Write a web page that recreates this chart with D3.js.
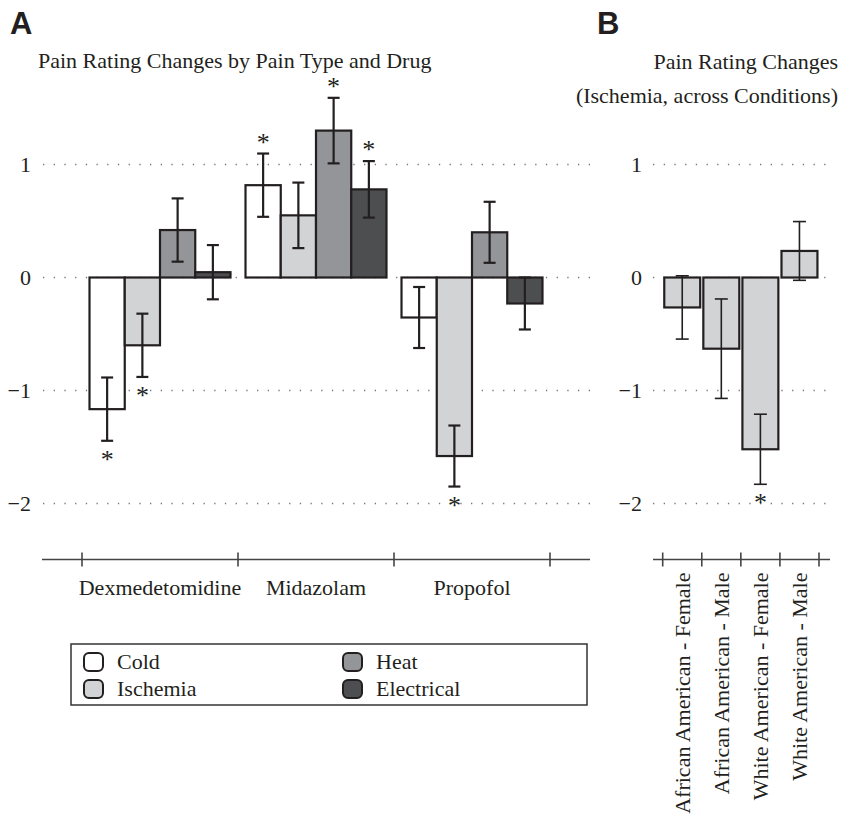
<!DOCTYPE html>
<html>
<head>
<meta charset="utf-8">
<script src="https://cdn.jsdelivr.net/npm/d3@7"></script>
<style>
  body { margin: 0; background: #fff; }
  text { font-family: "Liberation Serif", "Times New Roman", serif; fill: #231f20; }
  .panel-letter { font-family: "Liberation Sans", Arial, sans-serif; font-weight: bold; }
</style>
</head>
<body>
<div id="chart"></div>
<script>
// panel A data
const drugs = ["Dexmedetomidine", "Midazolam", "Propofol"];
const painTypes = ["Cold", "Ischemia", "Heat", "Electrical"];
const meansA = [
  [-1.165, -0.60, 0.42, 0.047],
  [0.817, 0.55, 1.30, 0.78],
  [-0.354, -1.58, 0.40, -0.23]
];
const seA = [
  [0.28, 0.28, 0.28, 0.24],
  [0.28, 0.29, 0.29, 0.25],
  [0.27, 0.27, 0.27, 0.23]
];
const sigA = [
  [1, 1, 0, 0],
  [1, 0, 1, 1],
  [0, 1, 0, 0]
];

// panel B data (ischemia)
const conditions = ["African American - Female", "African American - Male", "White American - Female", "White American - Male"];
const meansB = [-0.265, -0.63, -1.52, 0.235];
const seB = [0.28, 0.44, 0.31, 0.26];
const sigB = [0, 0, 1, 0];

const yTicks = [1, 0, -1, -2];
const fills = { Cold: "#ffffff", Ischemia: "#d1d3d4", Heat: "#939598", Electrical: "#4d4e50" };
const ink = "#231f20";

const svg = d3.select("#chart").append("svg")
  .attr("width", 842).attr("height", 816);

// shared y scale
const y = d3.scaleLinear().domain([-2, 1]).range([503.5, 164.5]);

function fmt(d) { return d < 0 ? "\u2212" + Math.abs(d) : String(d); }

function grid(g, x1, x2, labelX) {
  g.selectAll("line.grid").data(yTicks).join("line")
    .attr("class", "grid")
    .attr("x1", x1).attr("x2", x2)
    .attr("y1", d => y(d)).attr("y2", d => y(d))
    .attr("stroke", "#777").attr("stroke-width", 1.3)
    .attr("stroke-dasharray", "1.3,9.4");
  g.selectAll("text.ytick").data(yTicks).join("text")
    .attr("class", "ytick")
    .attr("x", labelX).attr("y", d => y(d))
    .attr("dy", "0.35em")
    .attr("text-anchor", "end")
    .style("font-size", "22px")
    .text(fmt);
}

function errorBar(g, cx, m, se, capW, sw) {
  g.append("line").attr("x1", cx).attr("x2", cx)
    .attr("y1", y(m + se)).attr("y2", y(m - se))
    .attr("stroke", ink).attr("stroke-width", sw);
  [m + se, m - se].forEach(v => {
    g.append("line").attr("x1", cx - capW / 2).attr("x2", cx + capW / 2)
      .attr("y1", y(v)).attr("y2", y(v))
      .attr("stroke", ink).attr("stroke-width", sw);
  });
}

function star(g, cx, m, se) {
  // centre of the star sits 15px beyond the end of the error bar
  const cy = m >= 0 ? y(m + se) - 15 : y(m - se) + 15;
  g.append("text").attr("x", cx).attr("y", cy + 12)
    .attr("text-anchor", "middle")
    .style("font-size", "26px")
    .text("*");
}

// ---------- panel A ----------
const gA = svg.append("g");
gA.append("text").attr("class", "panel-letter")
  .attr("x", 10).attr("y", 34).style("font-size", "31px").text("A");
gA.append("text").attr("x", 38).attr("y", 68)
  .style("font-size", "22px").text("Pain Rating Changes by Pain Type and Drug");

grid(gA, 43, 590, 31);

const x0 = d3.scaleBand().domain(drugs).range([82, 550]).padding(0);
const x1 = d3.scaleBand().domain(painTypes).range([0, x0.bandwidth()])
  .paddingInner(0).paddingOuter(0.213);

drugs.forEach((drug, i) => {
  const g = gA.append("g").attr("transform", `translate(${x0(drug)},0)`);
  painTypes.forEach((pt, j) => {
    const m = meansA[i][j];
    g.append("rect")
      .attr("x", x1(pt)).attr("width", x1.bandwidth())
      .attr("y", y(Math.max(0, m)))
      .attr("height", Math.abs(y(m) - y(0)))
      .attr("fill", fills[pt])
      .attr("stroke", ink).attr("stroke-width", 2.2);
  });
  painTypes.forEach((pt, j) => {
    const cx = x1(pt) + x1.bandwidth() / 2;
    errorBar(g, cx, meansA[i][j], seA[i][j], 12, 2.2);
    if (sigA[i][j]) star(g, cx, meansA[i][j], seA[i][j]);
  });
});

// x axis A
const axisY = 559.5;
const axA = gA.append("g").attr("transform", `translate(0,${axisY})`);
axA.append("line").attr("x1", 42).attr("x2", 590)
  .attr("stroke", "#444").attr("stroke-width", 1.6);
const boundsA = drugs.map(d => x0(d)).concat([x0.range()[1]]);
axA.selectAll("line.tk").data(boundsA).join("line")
  .attr("class", "tk")
  .attr("x1", d => d).attr("x2", d => d).attr("y1", -7).attr("y2", 7)
  .attr("stroke", "#444").attr("stroke-width", 1.6);
axA.selectAll("text.lbl").data(drugs).join("text")
  .attr("class", "lbl")
  .attr("x", d => x0(d) + x0.bandwidth() / 2).attr("y", 35)
  .attr("text-anchor", "middle")
  .style("font-size", "22px")
  .text(d => d);

// legend
const lg = gA.append("g");
lg.append("rect").attr("x", 71).attr("y", 644).attr("width", 516).attr("height", 61)
  .attr("fill", "none").attr("stroke", "#333").attr("stroke-width", 1.5);
painTypes.forEach((pt, j) => {
  const lx = j < 2 ? 84 : 343;
  const ly = j % 2 === 0 ? 653 : 680;
  lg.append("rect").attr("x", lx).attr("y", ly).attr("width", 19).attr("height", 18)
    .attr("rx", 5).attr("fill", fills[pt]).attr("stroke", ink).attr("stroke-width", 2);
  lg.append("text").attr("x", lx + 33).attr("y", ly + 16)
    .style("font-size", "22px").text(pt);
});

// ---------- panel B ----------
const gB = svg.append("g");
gB.append("text").attr("class", "panel-letter")
  .attr("x", 597).attr("y", 34).style("font-size", "31px").text("B");
gB.append("text").attr("x", 838).attr("y", 69).attr("text-anchor", "end")
  .style("font-size", "22px").text("Pain Rating Changes");
gB.append("text").attr("x", 838).attr("y", 103).attr("text-anchor", "end")
  .style("font-size", "22px").text("(Ischemia, across Conditions)");

grid(gB, 653, 826, 642);

const xB = d3.scaleBand().domain(conditions).range([662.7, 819])
  .paddingInner(0.08).paddingOuter(0.04);

conditions.forEach((c, i) => {
  const m = meansB[i];
  gB.append("rect")
    .attr("x", xB(c)).attr("width", xB.bandwidth())
    .attr("y", y(Math.max(0, m)))
    .attr("height", Math.abs(y(m) - y(0)))
    .attr("fill", fills.Ischemia)
    .attr("stroke", ink).attr("stroke-width", 2.2);
});
conditions.forEach((c, i) => {
  const cx = xB(c) + xB.bandwidth() / 2;
  errorBar(gB, cx, meansB[i], seB[i], 13, 1.6);
  if (sigB[i]) star(gB, cx, meansB[i], seB[i]);
});

const axB = gB.append("g").attr("transform", `translate(0,${axisY})`);
axB.append("line").attr("x1", 653).attr("x2", 830)
  .attr("stroke", "#444").attr("stroke-width", 1.6);
const boundsB = d3.range(conditions.length + 1).map(i => xB.range()[0] + i * (xB.range()[1] - xB.range()[0]) / conditions.length);
axB.selectAll("line.tk").data(boundsB).join("line")
  .attr("class", "tk")
  .attr("x1", d => d).attr("x2", d => d).attr("y1", -7).attr("y2", 7)
  .attr("stroke", "#444").attr("stroke-width", 1.6);
axB.selectAll("text.lbl").data(conditions).join("text")
  .attr("class", "lbl")
  .attr("transform", d => `translate(${xB(d) + xB.bandwidth() / 2},13) rotate(-90)`)
  .attr("dy", "0.35em")
  .attr("text-anchor", "end")
  .style("font-size", "22px")
  .text(d => d);
</script>
</body>
</html>
